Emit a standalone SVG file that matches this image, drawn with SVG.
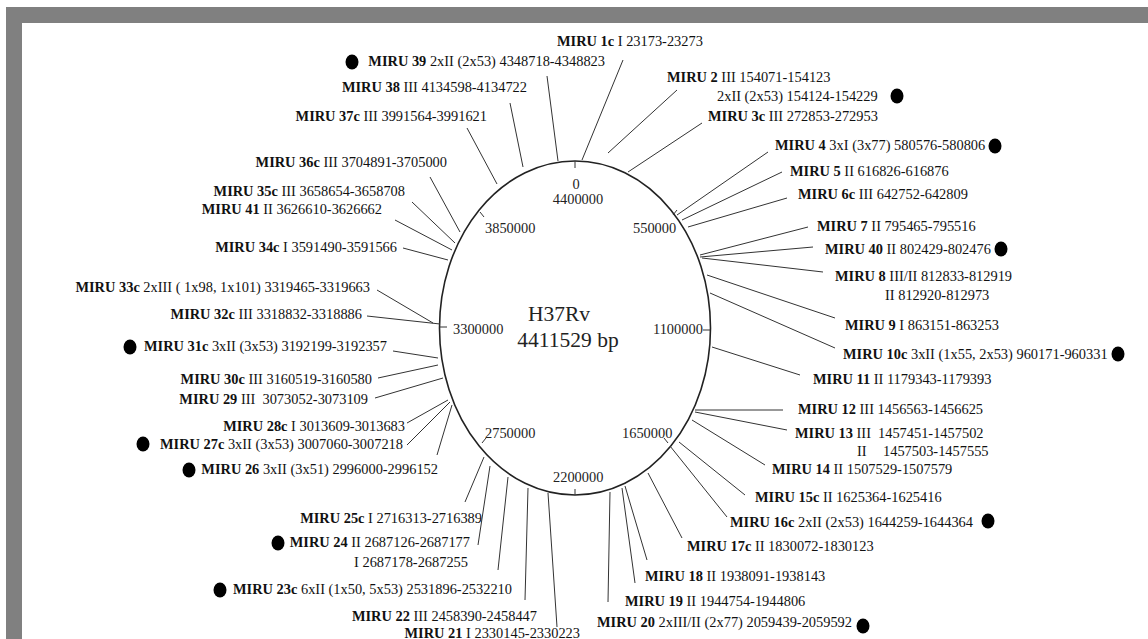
<svg xmlns="http://www.w3.org/2000/svg" width="1148" height="639" viewBox="0 0 1148 639">
<style>
.t{font-family:"Liberation Serif","Times New Roman",serif;font-size:14.4px;fill:#111}
.b{font-weight:bold}
.tk{font-family:"Liberation Serif","Times New Roman",serif;font-size:14.4px;fill:#222}
.ctr{font-family:"Liberation Serif","Times New Roman",serif;font-size:21.5px;fill:#222}
.e{text-anchor:end}
.m{text-anchor:middle}
.c line{stroke:#333;stroke-width:1}
.dot{fill:#000}
</style>
<rect width="1148" height="639" fill="#fff"/>
<rect x="6" y="7" width="1142" height="16" fill="#808080"/>
<rect x="6" y="7" width="16" height="632" fill="#808080"/>
<g id="chromosome">
<ellipse cx="575" cy="328" rx="135.5" ry="167" fill="none" stroke="#222" stroke-width="1.6"/>
<g stroke="#333" stroke-width="1">
<line x1="575" y1="161" x2="575" y2="168"/>
<line x1="677" y1="210" x2="673" y2="215"/>
<line x1="480" y1="212" x2="484" y2="217"/>
<line x1="440" y1="327" x2="447" y2="327"/>
<line x1="703" y1="330" x2="710" y2="330"/>
<line x1="482" y1="443" x2="486" y2="438"/>
<line x1="668" y1="443" x2="664" y2="438"/>
<line x1="575" y1="495" x2="575" y2="489"/>
</g>
<text class="tk m" x="576" y="189">0</text>
<text class="tk m" x="578" y="204">4400000</text>
<text class="tk" x="485" y="233">3850000</text>
<text class="tk" x="633" y="233">550000</text>
<text class="tk" x="453" y="334">3300000</text>
<text class="tk" x="653" y="334">1100000</text>
<text class="tk" x="485" y="438">2750000</text>
<text class="tk" x="622" y="438">1650000</text>
<text class="tk" x="553" y="482">2200000</text>
<text class="ctr m" x="559" y="321">H37Rv</text>
<text class="ctr m" x="568" y="347">4411529 bp</text>
</g>
<g id="connectors" class="c">
<line x1="623" y1="60" x2="582" y2="160"/>
<line x1="547" y1="76" x2="558" y2="161"/>
<line x1="510" y1="103" x2="523" y2="167"/>
<line x1="467" y1="128" x2="497" y2="184"/>
<line x1="430" y1="177" x2="460" y2="232"/>
<line x1="412" y1="202" x2="455" y2="243"/>
<line x1="395" y1="220" x2="452" y2="250"/>
<line x1="403" y1="248" x2="448" y2="260"/>
<line x1="377" y1="290" x2="433" y2="323"/>
<line x1="367" y1="316" x2="440" y2="324"/>
<line x1="393" y1="351" x2="438" y2="358"/>
<line x1="378" y1="378" x2="438" y2="365"/>
<line x1="375" y1="398" x2="443" y2="378"/>
<line x1="407" y1="423" x2="448" y2="400"/>
<line x1="407" y1="445" x2="450" y2="402"/>
<line x1="437" y1="455" x2="452" y2="405"/>
<line x1="465" y1="502" x2="484" y2="457"/>
<line x1="478" y1="545" x2="490" y2="466"/>
<line x1="498" y1="570" x2="508" y2="477"/>
<line x1="525" y1="600" x2="528" y2="488"/>
<line x1="557" y1="627" x2="548" y2="493"/>
<line x1="608" y1="602" x2="610" y2="492"/>
<line x1="635" y1="583" x2="622" y2="488"/>
<line x1="647" y1="560" x2="625" y2="486"/>
<line x1="682" y1="538" x2="648" y2="473"/>
<line x1="727" y1="517" x2="670" y2="446"/>
<line x1="745" y1="495" x2="679" y2="442"/>
<line x1="765" y1="465" x2="692" y2="420"/>
<line x1="787" y1="430" x2="695" y2="412"/>
<line x1="783" y1="410" x2="695" y2="410"/>
<line x1="800" y1="375" x2="712" y2="347"/>
<line x1="835" y1="348" x2="710" y2="293"/>
<line x1="835" y1="318" x2="707" y2="275"/>
<line x1="823" y1="272" x2="702" y2="258"/>
<line x1="813" y1="247" x2="700" y2="257"/>
<line x1="808" y1="227" x2="700" y2="255"/>
<line x1="787" y1="198" x2="688" y2="227"/>
<line x1="782" y1="172" x2="682" y2="220"/>
<line x1="768" y1="152" x2="677" y2="215"/>
<line x1="702" y1="123" x2="628" y2="172"/>
<line x1="677" y1="90" x2="608" y2="153"/>
</g>
<g id="miru1c"><text class="t" x="557" y="46"><tspan class="b">MIRU 1c</tspan> I 23173-23273</text></g>
<g id="miru39"><ellipse class="dot" cx="352" cy="62" rx="6.5" ry="7.5"/><text class="t e" x="605" y="66"><tspan class="b">MIRU 39</tspan> 2xII (2x53) 4348718-4348823</text></g>
<g id="miru38"><text class="t e" x="527" y="92"><tspan class="b">MIRU 38</tspan> III 4134598-4134722</text></g>
<g id="miru37c"><text class="t e" x="487" y="121"><tspan class="b">MIRU 37c</tspan> III 3991564-3991621</text></g>
<g id="miru36c"><text class="t e" x="447" y="167"><tspan class="b">MIRU 36c</tspan> III 3704891-3705000</text></g>
<g id="miru35c"><text class="t e" x="405" y="196"><tspan class="b">MIRU 35c</tspan> III 3658654-3658708</text></g>
<g id="miru41"><text class="t e" x="382" y="214"><tspan class="b">MIRU 41</tspan> II 3626610-3626662</text></g>
<g id="miru34c"><text class="t e" x="397" y="252"><tspan class="b">MIRU 34c</tspan> I 3591490-3591566</text></g>
<g id="miru33c"><text class="t e" x="370" y="292"><tspan class="b">MIRU 33c</tspan> 2xIII ( 1x98, 1x101) 3319465-3319663</text></g>
<g id="miru32c"><text class="t e" x="362" y="319"><tspan class="b">MIRU 32c</tspan> III 3318832-3318886</text></g>
<g id="miru31c"><ellipse class="dot" cx="130" cy="347" rx="6.5" ry="7.5"/><text class="t e" x="387" y="351"><tspan class="b">MIRU 31c</tspan> 3xII (3x53) 3192199-3192357</text></g>
<g id="miru30c"><text class="t e" x="372" y="384"><tspan class="b">MIRU 30c</tspan> III 3160519-3160580</text></g>
<g id="miru29"><text class="t e" x="368" y="404" xml:space="preserve"><tspan class="b">MIRU 29</tspan> III  3073052-3073109</text></g>
<g id="miru28c"><text class="t e" x="405" y="431"><tspan class="b">MIRU 28c</tspan> I 3013609-3013683</text></g>
<g id="miru27c"><ellipse class="dot" cx="143" cy="444" rx="6.5" ry="7.5"/><text class="t e" x="403" y="449"><tspan class="b">MIRU 27c</tspan> 3xII (3x53) 3007060-3007218</text></g>
<g id="miru26"><ellipse class="dot" cx="189" cy="470" rx="6.5" ry="7.5"/><text class="t e" x="438" y="474"><tspan class="b">MIRU 26</tspan> 3xII (3x51) 2996000-2996152</text></g>
<g id="miru25c"><text class="t e" x="482" y="523"><tspan class="b">MIRU 25c</tspan> I 2716313-2716389</text></g>
<g id="miru24"><ellipse class="dot" cx="278" cy="543" rx="6.5" ry="7.5"/><text class="t e" x="470" y="547"><tspan class="b">MIRU 24</tspan> II 2687126-2687177</text><text class="t e" x="468" y="567">I 2687178-2687255</text></g>
<g id="miru23c"><ellipse class="dot" cx="220" cy="590" rx="6.5" ry="7.5"/><text class="t e" x="512" y="594"><tspan class="b">MIRU 23c</tspan> 6xII (1x50, 5x53) 2531896-2532210</text></g>
<g id="miru22"><text class="t e" x="537" y="621"><tspan class="b">MIRU 22</tspan> III 2458390-2458447</text></g>
<g id="miru21"><text class="t e" x="580" y="638"><tspan class="b">MIRU 21</tspan> I 2330145-2330223</text></g>
<g id="miru2"><text class="t" x="667" y="82"><tspan class="b">MIRU 2</tspan> III 154071-154123</text><text class="t" x="717" y="101">2xII (2x53) 154124-154229</text><ellipse class="dot" cx="897" cy="96" rx="6.5" ry="7.5"/></g>
<g id="miru3c"><text class="t" x="708" y="121"><tspan class="b">MIRU 3c</tspan> III 272853-272953</text></g>
<g id="miru4"><text class="t" x="775" y="150"><tspan class="b">MIRU 4</tspan> 3xI (3x77) 580576-580806</text><ellipse class="dot" cx="995" cy="146" rx="6.5" ry="7.5"/></g>
<g id="miru5"><text class="t" x="790" y="176"><tspan class="b">MIRU 5</tspan> II 616826-616876</text></g>
<g id="miru6c"><text class="t" x="798" y="199"><tspan class="b">MIRU 6c</tspan> III 642752-642809</text></g>
<g id="miru7"><text class="t" x="817" y="231"><tspan class="b">MIRU 7</tspan> II 795465-795516</text></g>
<g id="miru40"><text class="t" x="825" y="254"><tspan class="b">MIRU 40</tspan> II 802429-802476</text><ellipse class="dot" cx="1001" cy="249" rx="6.5" ry="7.5"/></g>
<g id="miru8"><text class="t" x="835" y="281"><tspan class="b">MIRU 8</tspan> III/II 812833-812919</text><text class="t" x="885" y="300">II 812920-812973</text></g>
<g id="miru9"><text class="t" x="845" y="330"><tspan class="b">MIRU 9</tspan> I 863151-863253</text></g>
<g id="miru10c"><text class="t" x="843" y="359"><tspan class="b">MIRU 10c</tspan> 3xII (1x55, 2x53) 960171-960331</text><ellipse class="dot" cx="1118" cy="354" rx="6.5" ry="7.5"/></g>
<g id="miru11"><text class="t" x="813" y="384"><tspan class="b">MIRU 11</tspan> II 1179343-1179393</text></g>
<g id="miru12"><text class="t" x="798" y="414"><tspan class="b">MIRU 12</tspan> III 1456563-1456625</text></g>
<g id="miru13"><text class="t" x="795" y="438"><tspan class="b">MIRU 13</tspan> III<tspan x="878">1457451-1457502</tspan></text><text class="t" x="857" y="456">II<tspan x="883">1457503-1457555</tspan></text></g>
<g id="miru14"><text class="t" x="772" y="474"><tspan class="b">MIRU 14</tspan> II 1507529-1507579</text></g>
<g id="miru15c"><text class="t" x="755" y="502"><tspan class="b">MIRU 15c</tspan> II 1625364-1625416</text></g>
<g id="miru16c"><text class="t" x="730" y="527"><tspan class="b">MIRU 16c</tspan> 2xII (2x53) 1644259-1644364</text><ellipse class="dot" cx="988" cy="521" rx="6.5" ry="7.5"/></g>
<g id="miru17c"><text class="t" x="687" y="551"><tspan class="b">MIRU 17c</tspan> II 1830072-1830123</text></g>
<g id="miru18"><text class="t" x="645" y="581"><tspan class="b">MIRU 18</tspan> II 1938091-1938143</text></g>
<g id="miru19"><text class="t" x="625" y="606"><tspan class="b">MIRU 19</tspan> II 1944754-1944806</text></g>
<g id="miru20"><text class="t" x="597" y="627"><tspan class="b">MIRU 20</tspan> 2xIII/II (2x77) 2059439-2059592</text><ellipse class="dot" cx="863" cy="626" rx="6.5" ry="7.5"/></g>
</svg>
